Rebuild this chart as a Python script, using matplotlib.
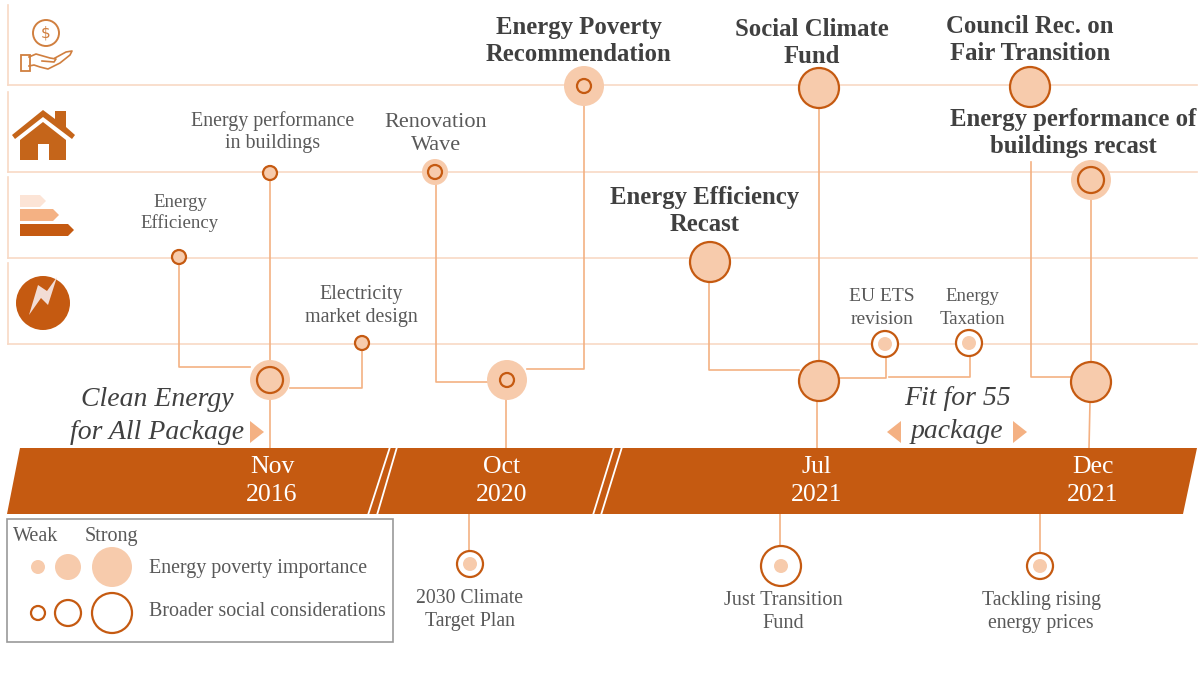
import matplotlib.pyplot as plt
from matplotlib.patches import Circle, Polygon, Rectangle

plt.rcParams['font.family'] = ['Liberation Serif', 'DejaVu Serif']

ORANGE = '#c55a11'
LIGHT = '#f7cbac'
LINE = '#f4b183'
FAINT = '#f8d9c5'
ICON = '#d07f3f'
GREY = '#595959'
DARK = '#404040'

# row separators and timeline
row_lines = [85, 172, 258, 344]
row_tops = [5, 92, 177, 263]
dates = ['Nov\n2016', 'Oct\n2020', 'Jul\n2021', 'Dec\n2021']
date_x = [272, 502, 817, 1093]

# milestones: label, x, y, fill radius, ring radius
small_labels = ['Energy\nEfficiency', 'Energy performance\nin buildings', 'Electricity\nmarket design',
                'Renovation\nWave', 'EU ETS\nrevision', 'Energy\nTaxation',
                '2030 Climate\nTarget Plan', 'Just Transition\nFund', 'Tackling rising\nenergy prices']
small_label_x = [180, 273, 361, 436, 882, 972, 470, 783, 1041]
small_label_y = [213, 132, 306, 134, 308, 308, 610, 612, 612]
small_label_size = [13.5, 14.4, 14.4, 16, 14, 13.5, 14.2, 14.6, 14.2]
small_label_gap = [1.25, 1.22, 1.25, 1.3, 1.4, 1.4, 1.22, 1.22, 1.22]

big_labels = ['Energy Poverty\nRecommendation', 'Social Climate\nFund', 'Council Rec. on\nFair Transition',
              'Energy performance of\nbuildings recast', 'Energy Efficiency\nRecast']
big_label_x = [579, 812, 1030, 1073, 705]
big_label_y = [41, 43, 40, 133, 211]

node_x = [179, 270, 270, 362, 435, 507, 584, 819, 1030, 1091, 710, 819, 1091, 885, 969, 470, 781, 1040]
node_y = [257, 173, 380, 343, 172, 380, 86, 88, 87, 180, 262, 381, 382, 344, 343, 564, 566, 566]
node_fill = [7, 7, 20, 7, 13, 20, 20, 20, 20, 20, 20, 20, 20, 7, 7, 7, 7, 7]
node_ring = [7, 7, 13, 7, 7, 7, 7, 20, 20, 13, 20, 20, 20, 13, 13, 13, 20, 13]

connectors = [
    ([179, 179, 250], [257, 367, 367]),
    ([270, 270], [173, 448]),
    ([362, 362, 290], [343, 388, 388]),
    ([436, 436, 488], [172, 382, 382]),
    ([584, 584, 527], [86, 369, 369]),
    ([506, 506], [400, 448]),
    ([819, 819], [88, 361]),
    ([817, 817], [401, 448]),
    ([709, 709, 799], [262, 370, 370]),
    ([839, 886, 886], [378, 378, 344]),
    ([889, 970, 970], [377, 377, 343]),
    ([1031, 1031, 1071], [162, 377, 377]),
    ([1091, 1091], [180, 362]),
    ([1090, 1089], [402, 448]),
    ([469, 469], [514, 551]),
    ([780, 780], [514, 546]),
    ([1040, 1040], [514, 552]),
]

legend_sizes = [7, 13, 20]
legend_x = [38, 68, 112]

fig = plt.figure(figsize=(12, 6.73), dpi=100)
ax = fig.add_axes([0, 0, 1, 1])
ax.set_xlim(0, 1200)
ax.set_ylim(673, 0)
ax.axis('off')

for y, top in zip(row_lines, row_tops):
    ax.plot([8, 1197], [y, y], color=FAINT, lw=1.2, zorder=1)
    ax.plot([8, 8], [top, y], color=FAINT, lw=1.2, zorder=1)

for xs, ys in connectors:
    ax.plot(xs, ys, color=LINE, lw=1.2, zorder=2)

# timeline band
ax.add_patch(Polygon([(7, 514), (20, 448), (1197, 448), (1183, 514)], color=ORANGE, lw=0, zorder=3))
for x0, x1 in [(368, 390), (377, 397), (593, 614), (601, 622)]:
    ax.plot([x0, x1], [515, 447], color='white', lw=1.3, zorder=4)
for d, x in zip(dates, date_x):
    ax.text(x, 481, d, color='white', fontsize=18.5, ha='center', va='center', linespacing=1.35, zorder=5)

for x, y, f, r in zip(node_x, node_y, node_fill, node_ring):
    if r > f:
        ax.add_patch(Circle((x, y), r, fc='white', ec=ORANGE, lw=1.6, zorder=5))
        ax.add_patch(Circle((x, y), f, fc=LIGHT, ec='none', zorder=6))
    else:
        ax.add_patch(Circle((x, y), f, fc=LIGHT, ec='none', zorder=5))
        ax.add_patch(Circle((x, y), r, fc='none', ec=ORANGE, lw=1.6, zorder=6))

for s, x, y, fs, gap in zip(small_labels, small_label_x, small_label_y, small_label_size, small_label_gap):
    ax.text(x, y, s, color=GREY, fontsize=fs, ha='center', va='center', linespacing=gap, zorder=7)
for s, x, y in zip(big_labels, big_label_x, big_label_y):
    ax.text(x, y, s, color=DARK, fontsize=17.8, weight='bold', ha='center', va='center', linespacing=1.25, zorder=7)

# package labels
ax.text(157, 416, 'Clean Energy\nfor All Package', color=DARK, fontsize=20, style='italic',
        ha='center', va='center', linespacing=1.4)
ax.text(957, 415, 'Fit for 55\npackage', color=DARK, fontsize=20, style='italic',
        ha='center', va='center', linespacing=1.4)
ax.add_patch(Polygon([(250, 421), (250, 443), (264, 432)], color=LINE, lw=0))
ax.add_patch(Polygon([(901, 421), (901, 443), (887, 432)], color=LINE, lw=0))
ax.add_patch(Polygon([(1013, 421), (1013, 443), (1027, 432)], color=LINE, lw=0))

# legend
ax.add_patch(Rectangle((7, 519), 386, 123, fc='white', ec='#999999', lw=1.2, zorder=3))
ax.text(36, 541, 'Weak', color=GREY, fontsize=14.5, ha='center', va='baseline', zorder=5)
ax.text(111, 541, 'Strong', color=GREY, fontsize=14.5, ha='center', va='baseline', zorder=5)
ax.text(149, 569, 'Energy poverty importance', color=GREY, fontsize=14.4, va='center', zorder=5)
ax.text(149, 611, 'Broader social considerations', color=GREY, fontsize=14.4, va='center', zorder=5)
for x, r in zip(legend_x, legend_sizes):
    ax.add_patch(Circle((x, 567), r, fc=LIGHT, ec='none', zorder=5))
    ax.add_patch(Circle((x, 613), r, fc='none', ec=ORANGE, lw=1.6, zorder=5))

# icons: coin and hand
ax.add_patch(Circle((46, 33), 13, fc='none', ec=ICON, lw=1.4))
ax.text(46, 33, '$', color=ICON, fontsize=11, ha='center', va='center', family='DejaVu Sans')
ax.add_patch(Rectangle((20.5, 54.5), 9, 16, fc='none', ec=ICON, lw=1.3))
ax.plot([29, 36, 43, 50, 56, 54, 42], [57, 54, 56, 58, 59, 62, 61], color=ICON, lw=1.2)
ax.plot([55, 66, 72, 70, 60, 48, 40, 34, 29], [58, 52, 51, 55, 63, 69, 67, 65, 66], color=ICON, lw=1.2)

# house
ax.add_patch(Polygon([(12, 135), (43, 110), (55, 119), (55, 111), (66, 111), (66, 127), (75, 135), (72, 139),
                      (43, 117), (15, 139)], color='#c5651a', lw=0))
ax.add_patch(Polygon([(20, 140), (43, 122), (66, 140), (66, 160), (49, 160), (49, 144), (38, 144), (38, 160),
                      (20, 160)], color='#c5651a', lw=0))

# energy label bars
for y, w, c in [(201, 26, '#fce4d6'), (215, 39, '#f4b183'), (230, 54, ORANGE)]:
    ax.add_patch(Polygon([(20, y - 6), (20 + w - 6, y - 6), (20 + w, y), (20 + w - 6, y + 6), (20, y + 6)], color=c, lw=0))

# electricity
ax.add_patch(Circle((43, 303), 27, fc=ORANGE, ec='none'))
ax.add_patch(Polygon([(57, 277), (47, 291), (38, 285), (29, 315), (41, 298), (48, 305)],
                     color='#f2dcd5', lw=0))

fig.savefig('out.png', dpi=100)
